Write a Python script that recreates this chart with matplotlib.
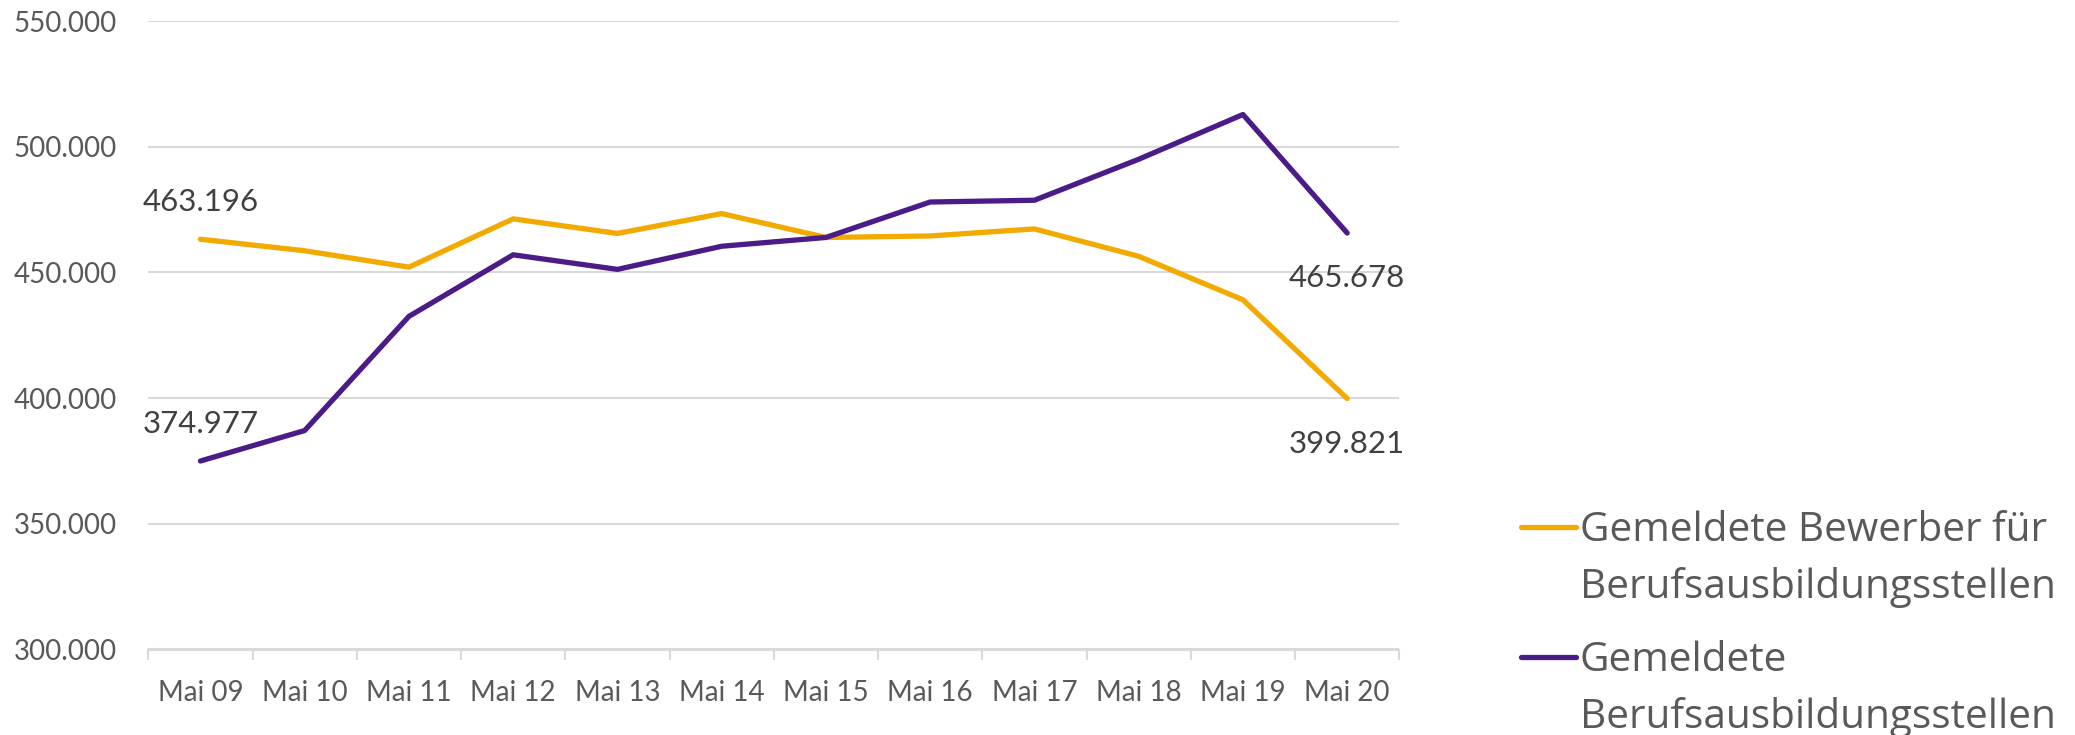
import matplotlib
matplotlib.use("Agg")
import matplotlib.pyplot as plt
from matplotlib.ticker import FuncFormatter, FixedLocator
from matplotlib.lines import Line2D

# ---- data ----
categories = ["Mai 09", "Mai 10", "Mai 11", "Mai 12", "Mai 13", "Mai 14",
              "Mai 15", "Mai 16", "Mai 17", "Mai 18", "Mai 19", "Mai 20"]
bewerber = [463196, 458600, 452100, 471300, 465500, 473400,
            463900, 464500, 467300, 456400, 439100, 399821]
stellen = [374977, 387100, 432500, 457000, 451200, 460400,
           463900, 478000, 478700, 495000, 512800, 465678]
series_labels = [["Gemeldete Bewerber für", "Berufsausbildungsstellen"],
                 ["Gemeldete", "Berufsausbildungsstellen"]]
y_ticks = [300000, 350000, 400000, 450000, 500000, 550000]

# ---- style ----
YELLOW = "#F2AA00"
PURPLE = "#4B1C87"
GRID = "#D9D9D9"
TICK_TXT = "#595959"
LBL_TXT = "#404040"

W, H = 2075, 735
fig = plt.figure(figsize=(W / 100, H / 100), dpi=100)
ax = fig.add_axes([148.3 / W, (H - 649.5) / H, (1399.3 - 148.3) / W, (649.5 - 21) / H])

x = list(range(len(categories)))
ax.plot(x, bewerber, color=YELLOW, lw=3.8, solid_capstyle="round",
        solid_joinstyle="round", zorder=3)
ax.plot(x, stellen, color=PURPLE, lw=3.8, solid_capstyle="round",
        solid_joinstyle="round", zorder=4)

ax.set_xlim(-0.5, len(categories) - 0.5)
ax.set_ylim(y_ticks[0], y_ticks[-1])

# y axis
ax.yaxis.set_major_locator(FixedLocator(y_ticks))
ax.yaxis.set_major_formatter(FuncFormatter(lambda v, p: f"{int(v):,}".replace(",", ".")))
ax.tick_params(axis="y", length=0, pad=22.7, labelsize=20, labelcolor=TICK_TXT)
ax.grid(axis="y", color=GRID, lw=1.5, zorder=0)
ax.set_axisbelow(True)

# x axis
ax.set_xticks(x)
ax.set_xticklabels(categories)
ax.set_xticks([i - 0.5 for i in range(len(categories) + 1)], minor=True)
ax.tick_params(axis="x", which="major", length=0, pad=22, labelsize=20, labelcolor=TICK_TXT)
ax.tick_params(axis="x", which="minor", length=7.2, width=1.5, color=GRID)

for s in ["top", "right", "left"]:
    ax.spines[s].set_visible(False)
ax.spines["bottom"].set_color(GRID)
ax.spines["bottom"].set_linewidth(1.5)

for lab in ax.get_xticklabels() + ax.get_yticklabels():
    lab.set_fontfamily("Lato")


def fmt(v):
    return f"{int(v):,}".replace(",", ".")


# data labels: first point above, last point below
for series in (bewerber, stellen):
    ax.annotate(fmt(series[0]), (x[0], series[0]), xytext=(0, 20.2),
                textcoords="offset points", ha="center", va="baseline",
                fontsize=22.5, color=LBL_TXT, family="Lato")
    ax.annotate(fmt(series[-1]), (x[-1], series[-1]), xytext=(0, -22.5),
                textcoords="offset points", ha="center", va="top",
                fontsize=22.5, color=LBL_TXT, family="Lato")

# legend (manual, as in the reference it is partly cut off at the edges)
handle_y = [526.7, 656.7]
base_y = [[540.7, 598.3], [670.7, 728.3]]
colors = [YELLOW, PURPLE]
for i in range(2):
    fig.add_artist(Line2D([1521 / W, 1575.5 / W], [1 - handle_y[i] / H] * 2,
                          color=colors[i], lw=3.8, solid_capstyle="round",
                          transform=fig.transFigure))
    for j, line in enumerate(series_labels[i]):
        fig.text(1580 / W, 1 - base_y[i][j] / H, line, ha="left", va="baseline",
                 fontsize=29.2, color=TICK_TXT, family="Open Sans")

fig.savefig("out.png", dpi=100)
